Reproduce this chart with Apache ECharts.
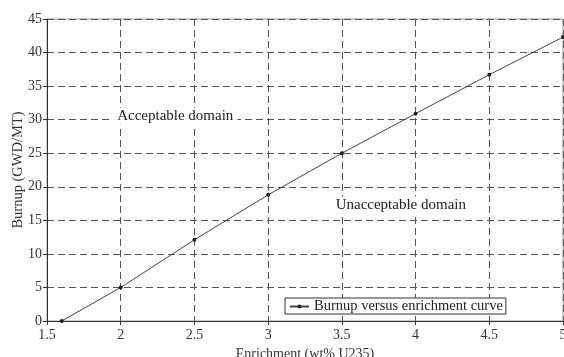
<!DOCTYPE html>
<html><head><meta charset="utf-8">
<script src="https://cdn.jsdelivr.net/npm/echarts@6/dist/echarts.min.js"></script>
<style>html,body{margin:0;padding:0;background:#fff}#c{width:564px;height:357px}</style>
</head><body><div id="c"></div>
<script>
const enrichment = [1.6, 2, 2.5, 3, 3.5, 4, 4.5, 5];
const burnup = [0, 5, 12.1, 18.8, 25.0, 30.9, 36.7, 42.3];
const seriesName = 'Burnup versus enrichment curve';
const annotations = [
  {text: 'Acceptable domain', x: 2.37, y: 30.5},
  {text: 'Unacceptable domain', x: 3.9, y: 17.3}
];
const FONT = '"Liberation Serif", "DejaVu Serif", serif';
const chart = echarts.init(document.getElementById('c'));
chart.setOption({
  animation: false,
  backgroundColor: '#fff',
  textStyle: {fontFamily: FONT},
  grid: {left: 47, right: 1, top: 19, bottom: 36, containLabel: false, outerBoundsMode: 'none',
    show: true, borderColor: '#999', borderWidth: 1},
  xAxis: {
    type: 'value', min: 1.5, max: 5, interval: 0.5,
    name: 'Enrichment (wt% U235)', nameLocation: 'middle', nameGap: 26, nameMoveOverlap: false,
    nameTextStyle: {fontFamily: FONT, fontSize: 14, color: '#333'},
    axisLine: {lineStyle: {color: '#333', width: 1}},
    axisTick: {show: true, length: 4, lineStyle: {color: '#333'}},
    axisLabel: {fontFamily: FONT, fontSize: 14, color: '#333', margin: 7},
    splitLine: {show: true, lineStyle: {type: [7, 4], color: '#555', width: 1}}
  },
  yAxis: {
    type: 'value', min: 0, max: 45, interval: 5,
    name: 'Burnup (GWD/MT)', nameLocation: 'middle', nameGap: 21, nameMoveOverlap: false,
    nameTextStyle: {fontFamily: FONT, fontSize: 14.5, color: '#333'},
    axisLine: {show: true, lineStyle: {color: '#333', width: 1}},
    axisTick: {show: true, length: 4, lineStyle: {color: '#333'}},
    axisLabel: {fontFamily: FONT, fontSize: 14, color: '#333', margin: 5},
    splitLine: {show: true, lineStyle: {type: [7, 4], color: '#555', width: 1}}
  },
  legend: {
    left: 285, top: 298,
    data: [seriesName],
    backgroundColor: '#fff', borderColor: '#333', borderWidth: 1,
    padding: [1, 3, 0, 4], itemWidth: 19, itemHeight: 5, itemGap: 4,
    textStyle: {fontFamily: FONT, fontSize: 14.5, color: '#222'}
  },
  series: [{
    name: seriesName, type: 'line',
    data: enrichment.map((x, i) => [x, burnup[i]]),
    symbol: 'circle', symbolSize: 4, showSymbol: true,
    lineStyle: {color: '#444', width: 1},
    itemStyle: {color: '#222'},
    markPoint: {
      symbol: 'rect', symbolSize: 0, silent: true,
      label: {show: true, position: 'inside', formatter: p => p.name,
        fontFamily: FONT, fontSize: 15, color: '#222', backgroundColor: '#fff', padding: [1, 4]},
      data: annotations.map(a => ({name: a.text, coord: [a.x, a.y]}))
    }
  }]
});
</script></body></html>
